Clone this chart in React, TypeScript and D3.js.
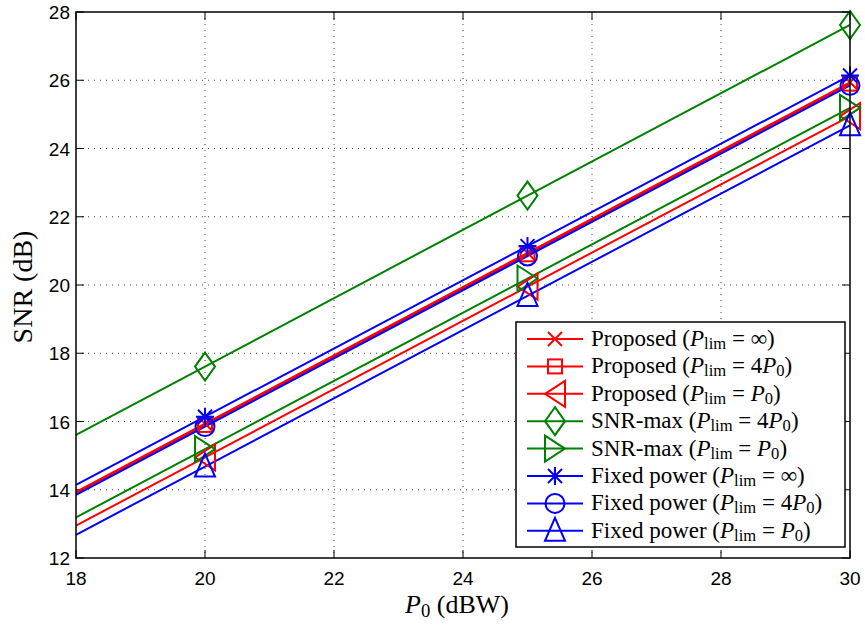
import React from "react";
import * as d3 from "d3";

// P0 (dBW) sample points; the axis starts at 18 so the first point is clipped
const p0 = [15, 20, 25, 30];

const proposedInf = [10.94, 15.94, 20.94, 25.94];
const proposed4P0 = [10.9, 15.9, 20.9, 25.9];
const proposedP0 = [9.95, 14.95, 19.95, 24.95];
const snrMax4P0 = [12.61, 17.61, 22.62, 27.62];
const snrMaxP0 = [10.19, 15.19, 20.19, 25.19];
const fixedInf = [11.14, 16.14, 21.14, 26.14];
const fixed4P0 = [10.85, 15.85, 20.85, 25.85];
const fixedP0 = [9.68, 14.68, 19.68, 24.68];

const xTicks = [18, 20, 22, 24, 26, 28, 30];
const yTicks = [12, 14, 16, 18, 20, 22, 24, 26, 28];

const seriesNames = ["Proposed", "Proposed", "Proposed", "SNR-max", "SNR-max", "Fixed power", "Fixed power", "Fixed power"];
const limits = ["∞", "4P0", "P0", "4P0", "P0", "∞", "4P0", "P0"];
const markers = ["x", "square", "left", "diamond", "right", "star", "circle", "up"];
const colors = ["#ff0000", "#ff0000", "#ff0000", "#008000", "#008000", "#0000ff", "#0000ff", "#0000ff"];
const values = [proposedInf, proposed4P0, proposedP0, snrMax4P0, snrMaxP0, fixedInf, fixed4P0, fixedP0];

const W = 865, H = 626;
const left = 76, right = 850, top = 12, bottom = 558;

const x = d3.scaleLinear().domain([18, 30]).range([left, right]);
const y = d3.scaleLinear().domain([12, 28]).range([bottom, top]);

const serif = "'Liberation Serif', 'Times New Roman', serif";
const sans = "'Liberation Sans', Arial, sans-serif";

function Marker({ kind, cx, cy, color }: { kind: string; cx: number; cy: number; color: string }) {
  const p = { fill: "none", stroke: color, strokeWidth: 2 };
  switch (kind) {
    case "x":
      return <path {...p} d={`M${cx - 7},${cy - 7}L${cx + 7},${cy + 7}M${cx - 7},${cy + 7}L${cx + 7},${cy - 7}`} />;
    case "square":
      return <rect {...p} x={cx - 7} y={cy - 7} width={14} height={14} />;
    case "left":
      return <path {...p} d={`M${cx - 10},${cy}L${cx + 10},${cy - 13}L${cx + 10},${cy + 13}Z`} />;
    case "right":
      return <path {...p} d={`M${cx + 10},${cy}L${cx - 10},${cy - 13}L${cx - 10},${cy + 13}Z`} />;
    case "up":
      return <path {...p} d={`M${cx},${cy - 13}L${cx + 10},${cy + 10}L${cx - 10},${cy + 10}Z`} />;
    case "diamond":
      return <path {...p} d={`M${cx},${cy - 14}L${cx + 10},${cy}L${cx},${cy + 14}L${cx - 10},${cy}Z`} />;
    case "circle":
      return <circle {...p} cx={cx} cy={cy} r={9.5} />;
    case "star":
      return (
        <path
          {...p}
          d={`M${cx},${cy - 9}L${cx},${cy + 9}M${cx - 9},${cy}L${cx + 9},${cy}M${cx - 7},${cy - 7}L${cx + 7},${cy + 7}M${cx - 7},${cy + 7}L${cx + 7},${cy - 7}`}
        />
      );
    default:
      return null;
  }
}

// legend label: name (P_lim = value)
function LegendText({ name, lim }: { name: string; lim: string }) {
  const sub = { fontSize: "0.72em", dy: 3 };
  const tail =
    lim === "∞" ? (
      <tspan dy={-3}>{" = ∞)"}</tspan>
    ) : (
      <>
        <tspan dy={-3}>{lim === "4P0" ? " = 4" : " = "}</tspan>
        <tspan fontStyle="italic">P</tspan>
        <tspan {...sub}>0</tspan>
        <tspan dy={-3}>)</tspan>
      </>
    );
  return (
    <>
      {name + " ("}
      <tspan fontStyle="italic">P</tspan>
      <tspan {...sub}>lim</tspan>
      {tail}
    </>
  );
}

export default function App() {
  const line = d3
    .line<number>()
    .x((_, i) => x(p0[i]))
    .y((v) => y(v));

  const legX = 516, legY = 322, legW = 329, legH = 225;
  const rowH = 27.4;

  return (
    <svg width={W} height={H} style={{ position: "absolute", left: 0, top: 0, background: "#fff" }}>
      <defs>
        <clipPath id="plot">
          <rect x={left} y={top} width={right - left} height={bottom - top} />
        </clipPath>
      </defs>
      <rect x={0} y={0} width={W} height={H} fill="#fff" />

      {/* grid */}
      {xTicks.slice(1, -1).map((t) => (
        <line key={"gx" + t} x1={x(t)} x2={x(t)} y1={top} y2={bottom} stroke="#444" strokeWidth={1} strokeDasharray="1,5" />
      ))}
      {yTicks.slice(1, -1).map((t) => (
        <line key={"gy" + t} x1={left} x2={right} y1={y(t)} y2={y(t)} stroke="#444" strokeWidth={1} strokeDasharray="1,5" />
      ))}

      {/* ticks */}
      {xTicks.map((t) => (
        <g key={"tx" + t}>
          <line x1={x(t)} x2={x(t)} y1={bottom} y2={bottom - 8} stroke="#000" />
          <line x1={x(t)} x2={x(t)} y1={top} y2={top + 8} stroke="#000" />
          <text x={x(t)} y={585} textAnchor="middle" fontFamily={sans} fontSize={19}>
            {t}
          </text>
        </g>
      ))}
      {yTicks.map((t) => (
        <g key={"ty" + t}>
          <line x1={left} x2={left + 8} y1={y(t)} y2={y(t)} stroke="#000" />
          <line x1={right} x2={right - 8} y1={y(t)} y2={y(t)} stroke="#000" />
          <text x={70} y={y(t) + 7} textAnchor="end" fontFamily={sans} fontSize={19}>
            {t}
          </text>
        </g>
      ))}

      {/* series */}
      <g clipPath="url(#plot)">
        {values.map((vals, i) => (
          <path key={"l" + i} d={line(vals) || ""} fill="none" stroke={colors[i]} strokeWidth={2} />
        ))}
      </g>
      {values.map((vals, i) =>
        vals.map((v, j) =>
          p0[j] >= 18 ? <Marker key={`m${i}-${j}`} kind={markers[i]} cx={x(p0[j])} cy={y(v)} color={colors[i]} /> : null
        )
      )}

      {/* axes box */}
      <rect x={left} y={top} width={right - left} height={bottom - top} fill="none" stroke="#000" strokeWidth={1.5} />

      {/* labels */}
      <text x={457} y={613} textAnchor="middle" fontFamily={serif} fontSize={26}>
        <tspan fontStyle="italic">P</tspan>
        <tspan fontSize="0.72em" dy={4}>0</tspan>
        <tspan dy={-4}> (dBW)</tspan>
      </text>
      <text transform={`translate(32,287) rotate(-90)`} textAnchor="middle" fontFamily={serif} fontSize={28}>
        SNR (dB)
      </text>

      {/* legend */}
      <rect x={legX} y={legY} width={legW} height={legH} fill="#fff" stroke="#000" strokeWidth={1.5} />
      {seriesNames.map((name, i) => {
        const cy = legY + 17 + i * rowH;
        return (
          <g key={"lg" + i}>
            <line x1={527} x2={583} y1={cy} y2={cy} stroke={colors[i]} strokeWidth={2} />
            <Marker kind={markers[i]} cx={555} cy={cy} color={colors[i]} />
            <text x={591} y={cy + 7} fontFamily={serif} fontSize={23}>
              <LegendText name={name} lim={limits[i]} />
            </text>
          </g>
        );
      })}
    </svg>
  );
}
